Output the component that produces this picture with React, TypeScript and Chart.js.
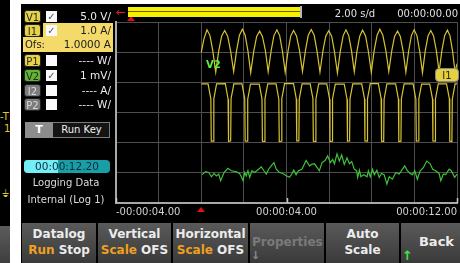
import React, { useEffect, useRef } from 'react';
import Chart from 'chart.js/auto';

// ---- axis definition (seconds / vertical divisions) ----
const X_MIN = -4;
const X_MAX = 12;
const X_STEP = 2;
const Y_MIN = 0;
const Y_MAX = 6;
const X_TICK_LABELS = ['-00:00:04.00', '', '', '', '00:00:04.00', '', '', '', '00:00:12.00'];

// ---- I1 trace (upper yellow) ----
const I1_TIME = [0.00, 0.13, 0.27,
  0.41, 0.54, 0.68, 0.82, 0.96, 1.10,
  1.24, 1.38, 1.52, 1.66, 1.79, 1.93,
  2.06, 2.19, 2.32, 2.46, 2.60, 2.74,
  2.87, 3.01, 3.14, 3.28, 3.41, 3.55,
  3.68, 3.81, 3.94, 4.07, 4.20, 4.33,
  4.47, 4.61, 4.75, 4.89, 5.02, 5.16,
  5.30, 5.43, 5.57, 5.71, 5.84, 5.98,
  6.12, 6.25, 6.39, 6.52, 6.66, 6.79,
  6.92, 7.05, 7.18, 7.31, 7.44, 7.57,
  7.71, 7.84, 7.98, 8.11, 8.25, 8.38,
  8.52, 8.66, 8.80, 8.94, 9.07, 9.21,
  9.34, 9.47, 9.60, 9.73, 9.86, 9.99,
  10.12, 10.25, 10.38, 10.51, 10.64, 10.77,
  10.90, 11.03, 11.16, 11.29, 11.42, 11.55,
  11.67, 11.79, 11.91,
  12.00];
const I1_DIV = [4.99, 5.45, 5.74,
  5.55, 5.05, 4.34, 5.04, 5.54, 5.72,
  5.53, 5.03, 4.36, 5.06, 5.56, 5.76,
  5.56, 5.04, 4.32, 5.02, 5.52, 5.70,
  5.52, 5.05, 4.35, 5.05, 5.55, 5.74,
  5.55, 5.03, 4.33, 5.03, 5.54, 5.72,
  5.54, 5.06, 4.36, 5.06, 5.56, 5.75,
  5.56, 5.04, 4.34, 5.04, 5.53, 5.71,
  5.53, 5.02, 4.31, 5.02, 5.55, 5.74,
  5.55, 5.05, 4.35, 5.05, 5.54, 5.73,
  5.54, 5.03, 4.33, 5.04, 5.56, 5.76,
  5.56, 5.06, 4.36, 5.05, 5.52, 5.70,
  5.52, 5.04, 4.34, 5.03, 5.55, 5.74,
  5.55, 5.03, 4.32, 5.04, 5.54, 5.72,
  5.54, 5.05, 4.35, 5.05, 5.55, 5.73,
  5.55, 5.04, 4.34,
  4.62];

// ---- V1 trace (lower yellow, pulse dips) ----
const V1_TIME = [0.00,
  0.32, 0.45, 0.47, 0.57, 0.59, 0.72,
  1.13, 1.26, 1.28, 1.38, 1.40, 1.53,
  1.91, 2.04, 2.06, 2.16, 2.18, 2.31,
  2.72, 2.85, 2.87, 2.97, 2.99, 3.12,
  3.51, 3.64, 3.66, 3.76, 3.78, 3.91,
  4.33, 4.46, 4.48, 4.58, 4.60, 4.73,
  5.11, 5.24, 5.26, 5.36, 5.38, 5.51,
  5.89, 6.02, 6.04, 6.14, 6.16, 6.29,
  6.71, 6.84, 6.86, 6.96, 6.98, 7.11,
  7.53, 7.66, 7.68, 7.78, 7.80, 7.93,
  8.31, 8.44, 8.46, 8.56, 8.58, 8.71,
  9.12, 9.25, 9.27, 9.37, 9.39, 9.52,
  9.94, 10.07, 10.09, 10.19, 10.21, 10.34,
  10.72, 10.85, 10.87, 10.97, 10.99, 11.12,
  11.51, 11.64, 11.66, 11.76, 11.78, 11.91,
  12.00];
const V1_DIV = [3.95,
  3.95, 3.45, 2.05, 2.05, 3.45, 3.95,
  3.96, 3.44, 2.04, 2.06, 3.46, 3.95,
  3.95, 3.46, 2.06, 2.05, 3.44, 3.94,
  3.94, 3.45, 2.05, 2.04, 3.45, 3.95,
  3.95, 3.44, 2.04, 2.05, 3.46, 3.96,
  3.96, 3.45, 2.06, 2.06, 3.45, 3.95,
  3.95, 3.46, 2.05, 2.04, 3.44, 3.95,
  3.95, 3.45, 2.04, 2.05, 3.45, 3.94,
  3.94, 3.44, 2.05, 2.06, 3.46, 3.95,
  3.95, 3.45, 2.06, 2.05, 3.45, 3.96,
  3.96, 3.46, 2.05, 2.04, 3.44, 3.95,
  3.95, 3.45, 2.04, 2.05, 3.45, 3.95,
  3.95, 3.44, 2.05, 2.06, 3.46, 3.94,
  3.94, 3.45, 2.06, 2.05, 3.45, 3.95,
  3.95, 3.46, 2.05, 2.04, 3.44, 3.95,
  3.95];

// ---- V2 trace (green, noisy) ----
const V2_TIME = [0.04, 0.20, 0.35, 0.48, 0.60, 0.71, 0.82, 0.91, 1.07, 1.25, 1.41, 1.65, 1.80, 1.88, 1.96,
  2.04, 2.11, 2.19, 2.27, 2.38, 2.50, 2.66, 2.82, 2.94, 3.05, 3.16, 3.28, 3.41, 3.52, 3.67, 3.83, 3.99,
  4.14, 4.25, 4.34, 4.45, 4.56, 4.72, 4.92, 5.08, 5.18, 5.31, 5.44, 5.54, 5.67, 5.81, 5.93,
  6.06, 6.17, 6.25, 6.37, 6.48, 6.59, 6.71, 6.84, 6.95, 7.06, 7.18, 7.29, 7.34, 7.42, 7.49, 7.62, 7.78, 7.84, 7.93,
  8.04, 8.12, 8.24, 8.35, 8.46, 8.58, 8.71, 8.82, 8.97, 9.13, 9.29, 9.44, 9.55, 9.67, 9.80, 9.91,
  10.02, 10.14, 10.27, 10.42, 10.58, 10.74, 10.86, 11.00, 11.16, 11.24, 11.36, 11.47, 11.63, 11.73, 11.89, 12.00];
const V2_DIV = [0.94, 1.04, 1.01, 0.87, 0.98, 0.90, 0.96, 0.74, 1.01, 1.15, 1.07, 1.03, 0.98, 0.87, 0.74,
  1.01, 0.90, 1.07, 0.85, 1.07, 1.01, 1.10, 1.20, 1.07, 0.96, 1.12, 1.23, 1.34, 1.12, 1.01, 0.98, 0.90,
  0.85, 0.96, 1.09, 0.94, 1.07, 1.12, 1.41, 1.23, 1.28, 1.30, 1.17, 1.07, 1.34, 1.41, 1.56,
  1.34, 1.44, 1.30, 1.63, 1.39, 1.59, 1.28, 1.50, 1.30, 1.37, 1.12, 1.07, 0.85, 1.09, 0.87, 0.94, 0.87, 1.07, 0.87,
  1.12, 0.94, 1.09, 0.85, 0.98, 0.94, 0.63, 0.87, 0.79, 1.01, 0.96, 1.12, 1.23, 1.07, 0.98, 0.94,
  1.07, 0.79, 1.07, 1.17, 1.39, 1.30, 1.12, 1.07, 0.98, 0.74, 0.96, 0.94, 1.12, 1.07, 0.85, 0.95];

// ---- panel texts ----
const CHANNELS = [
  { id: 'V1', top: 10, kind: 'yellow', checked: true, scale: '5.0 V/', active: false },
  { id: 'I1', top: 24, kind: 'yellow', checked: true, scale: '1.0 A/', active: true },
  { id: 'P1', top: 54, kind: 'yellow', checked: false, scale: '---- W/', active: false },
  { id: 'V2', top: 69, kind: 'green', checked: true, scale: '1 mV/', active: false },
  { id: 'I2', top: 84, kind: 'gray', checked: false, scale: '---- A/', active: false },
  { id: 'P2', top: 98, kind: 'gray', checked: false, scale: '---- W/', active: false },
];
const OFFSET_LABEL = 'Ofs:';
const OFFSET_VALUE = '1.0000 A';
const TIME_PER_DIV = '2.00 s/d';
const TRIGGER_TIME = '00:00:00.00';
const ELAPSED = '00:00:12.20';

const SOFTKEYS = [
  { left: 22, right: 96, l1: [['Datalog', 'w']], l2: [['Run', 'o'], [' Stop', 'w']] },
  { left: 98, right: 171, l1: [['Vertical', 'w']], l2: [['Scale', 'o'], [' OFS', 'w']] },
  { left: 173, right: 248, l1: [['Horizontal', 'w']], l2: [['Scale', 'o'], [' OFS', 'w']] },
  { left: 250, right: 324, l1: [], l2: [] },
  { left: 326, right: 399, l1: [['Auto', 'w']], l2: [['Scale', 'w']] },
  { left: 401, right: 460, l1: [], l2: [] },
];

const FONT = '"DejaVu Sans", "Liberation Sans", sans-serif';
const YELLOW_TRACE = '#d6c232';
const GREEN_TRACE = '#3fc23a';

const abs = (l: number, t: number, w: number, h: number, o: React.CSSProperties = {}): React.CSSProperties => ({
  position: 'absolute', left: l, top: t, width: w, height: h, ...o,
});

function pts(ts: number[], vs: number[]) {
  return ts.map((t, i) => ({ x: t, y: vs[i] }));
}

// small axis marks at the labelled times
const axisMarks = {
  id: 'axisMarks',
  afterDraw(chart: any) {
    const { ctx, scales, chartArea } = chart;
    ctx.save();
    ctx.strokeStyle = '#c8c8c8';
    ctx.lineWidth = 1.5;
    [X_MIN, 4, X_MAX].forEach((v) => {
      const x = Math.round(scales.x.getPixelForValue(v)) + 0.5;
      ctx.beginPath();
      ctx.moveTo(x, chartArea.bottom);
      ctx.lineTo(x, chartArea.bottom - 5);
      ctx.stroke();
    });
    ctx.restore();
  },
};

export default function App() {
  const ref = useRef<HTMLCanvasElement | null>(null);

  useEffect(() => {
    if (!ref.current) return;
    const chart = new Chart(ref.current, {
      type: 'line',
      data: {
        datasets: [
          { label: 'I1', data: pts(I1_TIME, I1_DIV), borderColor: YELLOW_TRACE, borderWidth: 1.2, pointRadius: 0, tension: 0 },
          { label: 'V1', data: pts(V1_TIME, V1_DIV), borderColor: YELLOW_TRACE, borderWidth: 1.2, pointRadius: 0, tension: 0 },
          { label: 'V2', data: pts(V2_TIME, V2_DIV), borderColor: GREEN_TRACE, borderWidth: 1.2, pointRadius: 0, tension: 0 },
        ],
      },
      options: {
        animation: false,
        responsive: false,
        maintainAspectRatio: false,
        layout: { padding: { left: 16, right: 2, top: 18, bottom: 8 } },
        plugins: { legend: { display: false }, tooltip: { enabled: false } },
        scales: {
          x: {
            type: 'linear', min: X_MIN, max: X_MAX,
            ticks: {
              stepSize: X_STEP, autoSkip: false, maxRotation: 0, minRotation: 0, align: 'inner',
              color: '#d2d2d2', padding: 3, font: { family: FONT, size: 10 },
              callback: (_v: any, i: number) => X_TICK_LABELS[i] ?? '',
            },
            grid: { color: '#4e4e4e', lineWidth: 1, drawTicks: false },
            border: { color: '#a8a8a8', width: 2 },
          },
          y: {
            type: 'linear', min: Y_MIN, max: Y_MAX,
            ticks: { display: false, stepSize: 1 },
            grid: { color: '#4e4e4e', lineWidth: 1, drawTicks: false },
            border: { color: '#a8a8a8', width: 2 },
          },
        },
      },
      plugins: [axisMarks],
    });
    return () => chart.destroy();
  }, []);

  const labelBg = (k: string) => (k === 'yellow' ? '#e6d24c' : k === 'green' ? '#5fb536' : '#7c7c7c');
  const labelFg = (k: string) => (k === 'gray' ? '#d8d8d8' : '#2a2a10');

  return (
    <div style={{ position: 'fixed', left: 0, top: 0, width: 460, height: 263, background: '#000', overflow: 'hidden', fontFamily: FONT, color: '#e6e6e6' }}>
      {/* left edge remnants */}
      <div style={abs(0, 0, 10, 263, { background: '#000' })} />
      <div style={abs(0, 111, 12, 12, { color: '#e0c830', fontSize: 10, lineHeight: '12px' })}>-T</div>
      <div style={abs(4, 123, 8, 12, { color: '#e0c830', fontSize: 10, lineHeight: '12px' })}>1</div>
      <div style={abs(2, 188, 8, 12, { color: '#e0c830', fontSize: 10, lineHeight: '12px' })}>⏚</div>
      <div style={abs(0, 226, 10, 37, { background: 'linear-gradient(#5c5c5c, #3e3e3e)' })} />
      <div style={abs(10, 0, 11, 263, { background: '#fff' })} />
      <div style={abs(21, 0, 439, 4, { background: '#fff' })} />

      {/* plot */}
      <canvas ref={ref} width={360} height={225} style={abs(100, 4, 360, 225)} />

      {/* top status */}
      <div style={abs(116, 5, 12, 14, { color: '#e02020', fontSize: 12, lineHeight: '14px' })}>←</div>
      <div style={abs(127, 16, 0, 0, { borderLeft: '4px solid transparent', borderRight: '4px solid transparent', borderBottom: '5px solid #e01010' })} />
      <div style={abs(128, 7, 173, 10, { background: '#f5f000' })} />
      <div style={abs(128, 11, 173, 1, { background: '#6a6400' })} />
      <div style={abs(300, 6, 2, 12, { background: '#b8b8b8' })} />
      <div style={abs(330, 8, 50, 12, { fontSize: 10, lineHeight: '12px', color: '#e0e0e0', textAlign: 'center' })}>{TIME_PER_DIV}</div>
      <div style={abs(386, 8, 72, 12, { fontSize: 10, lineHeight: '12px', color: '#e0e0e0', textAlign: 'right' })}>{TRIGGER_TIME}</div>

      {/* channel list */}
      <div style={abs(43, 23, 70, 15, { background: '#f4da68' })} />
      <div style={abs(23, 37, 90, 15, { background: '#f4da68' })} />
      {CHANNELS.map((c) => (
        <React.Fragment key={c.id}>
          <div style={abs(24, c.top, 17, 13, { background: labelBg(c.kind), color: labelFg(c.kind), borderRadius: 3, fontSize: 10, lineHeight: '13px', textAlign: 'center', boxSizing: 'border-box', border: '1px solid #222' })}>{c.id}</div>
          <div style={abs(46, c.top + 1, 11, 11, { background: '#fafafa', color: '#555', fontSize: 10, lineHeight: '11px', textAlign: 'center' })}>{c.checked ? '✓' : ''}</div>
          <div style={abs(58, c.top, 53, 13, { fontSize: 10.5, lineHeight: '13px', textAlign: 'right', color: c.active ? '#202020' : '#ececec' })}>{c.scale}</div>
        </React.Fragment>
      ))}
      <div style={abs(25, 38, 25, 13, { fontSize: 10, lineHeight: '13px', color: '#202020' })}>{OFFSET_LABEL}</div>
      <div style={abs(55, 38, 56, 13, { fontSize: 10.5, lineHeight: '13px', textAlign: 'right', color: '#202020' })}>{OFFSET_VALUE}</div>

      {/* trigger source */}
      <div style={abs(25, 122, 85, 16, { border: '1px solid #7a7a7a', boxSizing: 'border-box', background: '#141414' })} />
      <div style={abs(25, 122, 28, 16, { background: '#8c8c8c', color: '#fff', fontWeight: 'bold', fontSize: 11, lineHeight: '16px', textAlign: 'center' })}>T</div>
      <div style={abs(53, 122, 57, 16, { fontSize: 10, lineHeight: '16px', textAlign: 'center', color: '#f0f0f0' })}>Run Key</div>

      {/* elapsed */}
      <div style={abs(24, 160, 86, 13, { borderRadius: 4, overflow: 'hidden', background: '#1a9ea6' })}>
        <div style={abs(0, 0, 34, 13, { background: '#74eef6' })} />
        <div style={abs(0, 0, 86, 13, { fontSize: 10.5, lineHeight: '13px', textAlign: 'center', color: '#0a2c3a' })}>{ELAPSED}</div>
      </div>
      <div style={abs(22, 176, 88, 13, { fontSize: 10, lineHeight: '13px', textAlign: 'center', color: '#dcdcdc' })}>Logging Data</div>
      <div style={abs(22, 193, 88, 13, { fontSize: 10, lineHeight: '13px', textAlign: 'center', color: '#dcdcdc' })}>Internal (Log 1)</div>

      {/* plot markers */}
      <div style={abs(206, 58, 18, 13, { color: '#5cf040', fontSize: 10, fontWeight: 'bold', lineHeight: '13px' })}>V2</div>
      <div style={abs(435, 68, 24, 14, { background: '#e4d040', color: '#2a2a10', borderRadius: 4, fontSize: 10, lineHeight: '14px', textAlign: 'center', boxSizing: 'border-box', border: '1px solid #888' })}>I1</div>
      <div style={abs(197, 207, 0, 0, { borderLeft: '4px solid transparent', borderRight: '4px solid transparent', borderBottom: '5px solid #e01010' })} />

      {/* softkeys */}
      <div style={abs(21, 222, 439, 41, { background: '#000' })} />
      {SOFTKEYS.map((k, i) => (
        <div key={i} style={abs(k.left, 223, k.right - k.left, 40, { background: 'linear-gradient(#5a5a5a, #3a3a3a)', fontWeight: 'bold', fontSize: 12, textAlign: 'center', color: '#ececec' })}>
          <div style={abs(0, 4, k.right - k.left, 15, { lineHeight: '15px' })}>
            {k.l1.map(([t, c], j) => <span key={j} style={{ color: c === 'o' ? '#f0a020' : '#ececec' }}>{t}</span>)}
          </div>
          <div style={abs(0, 20, k.right - k.left, 15, { lineHeight: '15px' })}>
            {k.l2.map(([t, c], j) => <span key={j} style={{ color: c === 'o' ? '#f0a020' : '#ececec' }}>{t}</span>)}
          </div>
        </div>
      ))}
      <div style={abs(252, 235, 72, 15, { fontWeight: 'bold', fontSize: 12, lineHeight: '15px', color: '#7a7a7a' })}>Properties</div>
      <div style={abs(251, 249, 10, 14, { fontWeight: 'bold', fontSize: 11, lineHeight: '14px', color: '#8a8a8a' })}>↓</div>
      <div style={abs(401, 234, 59, 16, { fontWeight: 'bold', fontSize: 13, lineHeight: '16px', color: '#ececec', textAlign: 'right', paddingRight: 6, boxSizing: 'border-box' })}>Back</div>
      <div style={abs(402, 248, 12, 15, { fontWeight: 'bold', fontSize: 13, lineHeight: '15px', color: '#40e040' })}>↑</div>
    </div>
  );
}
